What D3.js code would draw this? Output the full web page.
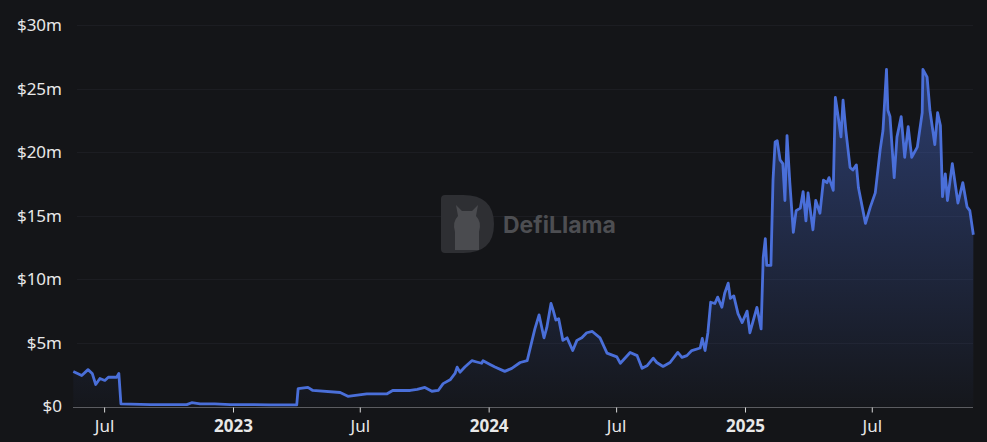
<!DOCTYPE html>
<html>
<head>
<meta charset="utf-8">
<script src="https://cdn.jsdelivr.net/npm/d3@7"></script>
<style>
  html, body { margin: 0; padding: 0; background: #141518; }
  svg { display: block; }
</style>
</head>
<body>
<script>
const width = 987;
const height = 442;

// TVL series, [date, value in $m]
const dates = [
  "2022-05-18","2022-05-30","2022-06-08","2022-06-14","2022-06-19","2022-06-25","2022-07-02","2022-07-07",
  "2022-07-19","2022-07-22","2022-07-25","2022-09-05","2022-10-27","2022-11-03","2022-11-15","2022-12-06",
  "2022-12-28","2023-01-25","2023-02-23","2023-04-02","2023-04-04","2023-04-18","2023-04-25","2023-06-03",
  "2023-06-14","2023-07-11","2023-08-09","2023-08-17","2023-09-11","2023-09-21","2023-10-02","2023-10-12",
  "2023-10-21","2023-10-28","2023-11-07","2023-11-14","2023-11-17","2023-11-21","2023-11-28","2023-12-08",
  "2023-12-15","2023-12-22","2023-12-24","2024-01-03","2024-01-10","2024-01-24","2024-02-03","2024-02-15",
  "2024-02-25","2024-03-03","2024-03-07","2024-03-13","2024-03-20","2024-03-24","2024-03-30","2024-04-02",
  "2024-04-06","2024-04-10","2024-04-16","2024-04-22","2024-04-30","2024-05-06","2024-05-13","2024-05-20",
  "2024-05-28","2024-06-08","2024-06-18","2024-07-02","2024-07-07","2024-07-21","2024-07-31","2024-08-07",
  "2024-08-14","2024-08-23","2024-08-28","2024-09-06","2024-09-16","2024-09-27","2024-10-03","2024-10-10",
  "2024-10-17","2024-10-29","2024-11-01","2024-11-05","2024-11-09","2024-11-13","2024-11-19","2024-11-23",
  "2024-11-29","2024-12-03","2024-12-08","2024-12-11","2024-12-16","2024-12-22","2024-12-28","2025-01-04",
  "2025-01-08","2025-01-18","2025-01-24","2025-01-27","2025-01-30","2025-02-01","2025-02-07","2025-02-10",
  "2025-02-13","2025-02-16","2025-02-20","2025-02-24","2025-02-27","2025-03-02","2025-03-06","2025-03-11",
  "2025-03-15","2025-03-21","2025-03-25","2025-03-29","2025-04-01","2025-04-08","2025-04-12","2025-04-18",
  "2025-04-23","2025-04-28","2025-05-01","2025-05-07","2025-05-10","2025-05-14","2025-05-18","2025-05-21",
  "2025-05-25","2025-05-31","2025-06-04","2025-06-09","2025-06-12","2025-06-22","2025-06-29","2025-07-06",
  "2025-07-13","2025-07-17","2025-07-22","2025-07-24","2025-07-27","2025-08-02","2025-08-06","2025-08-12",
  "2025-08-17","2025-08-22","2025-08-27","2025-09-04","2025-09-11","2025-09-12","2025-09-18","2025-09-22",
  "2025-09-29","2025-10-03","2025-10-07","2025-10-10","2025-10-14","2025-10-17","2025-10-24","2025-11-01",
  "2025-11-08","2025-11-14","2025-11-18","2025-11-23"
];
const tvl = [
  2.76,2.44,2.9,2.6,1.73,2.2,2.05,2.3,
  2.3,2.6,0.2,0.15,0.15,0.3,0.2,0.2,
  0.15,0.15,0.12,0.12,1.4,1.5,1.26,1.1,
  0.8,1.0,1.0,1.26,1.26,1.34,1.5,1.2,
  1.26,1.8,2.1,2.6,3.1,2.7,3.1,3.6,
  3.5,3.4,3.6,3.3,3.1,2.76,3.0,3.46,
  3.6,5.2,6.1,7.2,5.4,6.2,8.1,7.6,
  6.8,6.9,5.2,5.4,4.4,5.2,5.4,5.8,
  5.9,5.4,4.2,3.9,3.4,4.25,4.0,3.0,
  3.2,3.8,3.46,3.15,3.46,4.25,3.86,4.0,
  4.4,4.6,5.35,4.4,5.8,8.2,8.1,8.6,
  7.8,8.9,9.7,8.5,8.7,7.3,6.6,7.5,
  5.8,7.8,6.1,11.7,13.2,11.1,11.1,17.8,
  20.8,20.9,19.4,19.1,16.2,21.3,17.6,13.7,
  15.4,15.6,16.9,14.6,16.8,13.9,16.2,15.2,
  17.8,17.6,18.0,17.0,24.3,22.8,21.2,24.1,
  21.7,18.8,18.6,19.0,17.2,14.4,15.7,16.8,
  20.2,21.7,26.5,23.3,22.8,18.0,21.2,22.8,
  19.6,22.0,19.6,20.4,23.1,26.5,25.9,23.3,
  20.6,23.1,22.1,16.5,18.3,16.2,19.1,16.0,
  17.6,15.7,15.4,13.5
];

const yTicks = [0, 5, 10, 15, 20, 25, 30];
const xTicks = ["2022-07-01","2023-01-01","2023-07-01","2024-01-01","2024-07-01","2025-01-01","2025-07-01"];

const parse = d3.utcParse("%Y-%m-%d");
const data = dates.map((d, i) => ({ date: parse(d), value: tvl[i] }));

const lineColor = "#4a6fd9";
const plotLeft = 73, plotRight = 973;
const labelFont = "'Noto Sans', 'Open Sans', sans-serif";

const x = d3.scaleUtc()
  .domain([parse("2023-01-01"), parse("2025-01-01")])
  .range([233, 745]);
const y = d3.scaleLinear().domain([0, 30]).range([406.5, 25]);

const svg = d3.select("body").append("svg")
  .attr("width", width)
  .attr("height", height)
  .attr("xmlns", "http://www.w3.org/2000/svg");

svg.append("rect").attr("width", width).attr("height", height).attr("fill", "#141518");

const defs = svg.append("defs");
const grad = defs.append("linearGradient")
  .attr("id", "areaFill")
  .attr("gradientUnits", "userSpaceOnUse")
  .attr("x1", 0).attr("x2", 0)
  .attr("y1", y(27)).attr("y2", y(0));
grad.append("stop").attr("offset", "0%").attr("stop-color", lineColor).attr("stop-opacity", 0.45);
grad.append("stop").attr("offset", "100%").attr("stop-color", lineColor).attr("stop-opacity", 0.02);

// grid lines
svg.append("g")
  .selectAll("line")
  .data(yTicks.filter(d => d > 0))
  .join("line")
  .attr("x1", 77).attr("x2", plotRight)
  .attr("y1", d => Math.round(y(d)) + 0.5)
  .attr("y2", d => Math.round(y(d)) + 0.5)
  .attr("stroke", "#1c1d22")
  .attr("stroke-width", 1);

// watermark
const wm = svg.append("g");
wm.append("path")
  .attr("d", "M441,199 Q441,195 445,195 L463,195 Q494,195 494,224 Q494,253 463,253 L445,253 Q441,253 441,249 Z")
  .attr("fill", "#2e2f33");
wm.append("path")
  .attr("d", "M455,250 L455,232 Q452,222 458,216 L456,205 L462,211 L472,211 L478,205 L476,216 Q482,222 479,232 L479,250 Z")
  .attr("fill", "#4a4b4f");
wm.append("text")
  .attr("x", 503).attr("y", 233)
  .attr("font-family", "Inter, 'Noto Sans', sans-serif")
  .attr("font-weight", 700)
  .attr("font-size", 23)
  .attr("fill", "#4d4e52")
  .text("DefiLlama");

// area + line
const area = d3.area()
  .x(d => x(d.date))
  .y0(y(0))
  .y1(d => y(d.value));
const line = d3.line()
  .x(d => x(d.date))
  .y(d => y(d.value));

svg.append("path")
  .datum(data)
  .attr("d", area)
  .attr("fill", "url(#areaFill)");

svg.append("path")
  .datum(data)
  .attr("d", line)
  .attr("fill", "none")
  .attr("stroke", lineColor)
  .attr("stroke-width", 2.8)
  .attr("stroke-linejoin", "round");

// x axis
const fmtTick = d => d.getUTCMonth() === 0 ? d3.utcFormat("%Y")(d) : d3.utcFormat("%b")(d);
const xAxis = svg.append("g")
  .attr("transform", `translate(0,${Math.round(y(0)) + 0.5})`)
  .call(d3.axisBottom(x)
    .tickValues(xTicks.map(parse))
    .tickFormat(fmtTick)
    .tickSize(5)
    .tickPadding(7));
xAxis.select(".domain")
  .attr("d", `M${plotLeft},0H${plotRight}`)
  .attr("stroke", "#5b5c61");
xAxis.selectAll(".tick line").attr("stroke", "#d8d8d8");
xAxis.selectAll(".tick text")
  .attr("fill", "#e8e8e8")
  .attr("font-family", labelFont)
  .attr("font-size", 17)
  .attr("font-weight", d => d.getUTCMonth() === 0 ? 700 : 400);

// y axis labels
const yAxis = svg.append("g")
  .attr("transform", "translate(62,0)")
  .call(d3.axisLeft(y)
    .tickValues(yTicks)
    .tickFormat(d => d === 0 ? "$0" : `$${d}m`)
    .tickSize(0)
    .tickPadding(0));
yAxis.select(".domain").remove();
yAxis.selectAll(".tick text")
  .attr("fill", "#e8e8e8")
  .attr("font-family", labelFont)
  .attr("font-size", 17);
</script>
</body>
</html>
